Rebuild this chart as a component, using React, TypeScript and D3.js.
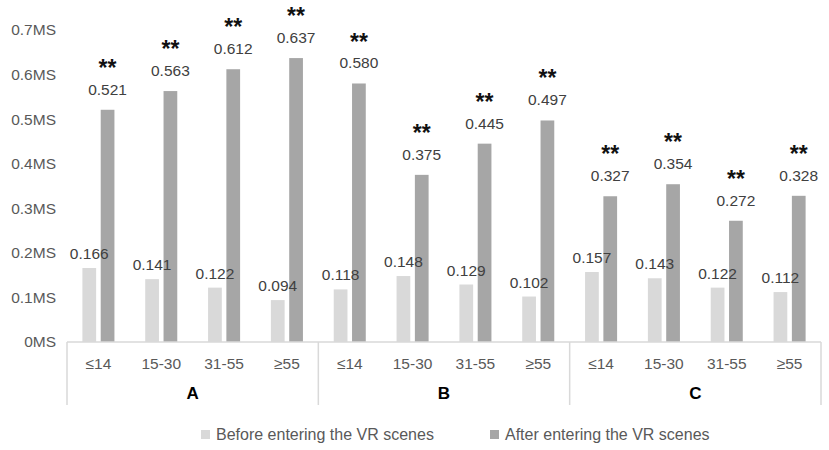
import React, { useEffect, useRef } from 'react';
import * as d3 from 'd3';

const groups = ['A', 'B', 'C'];
const ageBands = ['≤14', '15-30', '31-55', '≥55'];
const seriesNames = ['Before entering the VR scenes', 'After entering the VR scenes'];
const beforeValues = [0.166, 0.141, 0.122, 0.094, 0.118, 0.148, 0.129, 0.102, 0.157, 0.143, 0.122, 0.112];
const afterValues = [0.521, 0.563, 0.612, 0.637, 0.58, 0.375, 0.445, 0.497, 0.327, 0.354, 0.272, 0.328];
const yTicks = [0, 0.1, 0.2, 0.3, 0.4, 0.5, 0.6, 0.7];

const colors = ['#d9d9d9', '#a6a6a6'];
const font = '"Liberation Sans", Arial, sans-serif';

const App: React.FC = () => {
  const svgRef = useRef<SVGSVGElement>(null);

  useEffect(() => {
    if (!svgRef.current) return;
    const width = 829;
    const height = 450;
    const margin = { top: 30, right: 8, bottom: 108, left: 67 };
    const innerW = width - margin.left - margin.right;
    const innerH = height - margin.top - margin.bottom;

    const svg = d3.select(svgRef.current);
    svg.selectAll('*').remove();
    svg.attr('width', width).attr('height', height);

    const g = svg.append('g').attr('transform', `translate(${margin.left},${margin.top})`);

    const slots = groups.flatMap(gr => ageBands.map(a => `${gr}|${a}`));
    const rows = slots.map((s, i) => ({ key: s, group: s.split('|')[0], age: s.split('|')[1], values: [beforeValues[i], afterValues[i]] }));

    const x0 = d3.scaleBand().domain(slots).range([0, innerW]).paddingInner(0.49).paddingOuter(0.245);
    const x1 = d3.scaleBand().domain(['0', '1']).range([0, x0.bandwidth()]).paddingInner(0.25);
    const y = d3.scaleLinear().domain([0, 0.7]).range([innerH, 0]);
    const step = x0.step();

    // y tick labels
    g.selectAll('text.ytick')
      .data(yTicks)
      .enter().append('text')
      .attr('class', 'ytick')
      .attr('x', -11)
      .attr('y', d => y(d))
      .attr('dy', '0.35em')
      .attr('text-anchor', 'end')
      .attr('font-family', font)
      .attr('font-size', 15.5)
      .attr('fill', '#595959')
      .text(d => `${d3.format('~g')(d)}MS`);

    // bars
    const cat = g.selectAll('g.cat')
      .data(rows)
      .enter().append('g')
      .attr('class', 'cat')
      .attr('transform', d => `translate(${x0(d.key)},0)`);

    cat.selectAll('rect')
      .data(d => d.values.map((v, i) => ({ v, i })))
      .enter().append('rect')
      .attr('x', d => x1(String(d.i)) as number)
      .attr('y', d => y(d.v))
      .attr('width', x1.bandwidth())
      .attr('height', d => innerH - y(d.v))
      .attr('fill', d => colors[d.i]);

    cat.selectAll('text.val')
      .data(d => d.values.map((v, i) => ({ v, i })))
      .enter().append('text')
      .attr('class', 'val')
      .attr('x', d => (x1(String(d.i)) as number) + x1.bandwidth() / 2)
      .attr('y', d => y(d.v) - (d.i === 1 ? 15 : 9))
      .attr('text-anchor', 'middle')
      .attr('font-family', font)
      .attr('font-size', 15.5)
      .attr('fill', '#404040')
      .text(d => d3.format('.3f')(d.v));

    cat.append('text')
      .attr('x', (x1('1') as number) + x1.bandwidth() / 2)
      .attr('y', d => y(d.values[1]) - 34)
      .attr('text-anchor', 'middle')
      .attr('font-family', font)
      .attr('font-size', 23)
      .attr('font-weight', 'bold')
      .attr('fill', '#111')
      .text('**');

    // axis line
    g.append('line')
      .attr('x1', 0).attr('x2', innerW)
      .attr('y1', innerH).attr('y2', innerH)
      .attr('stroke', '#d9d9d9').attr('stroke-width', 1.5);

    // category labels
    g.selectAll('text.age')
      .data(rows)
      .enter().append('text')
      .attr('class', 'age')
      .attr('x', d => (x0(d.key) as number) + x0.bandwidth() / 2)
      .attr('y', innerH + 27)
      .attr('text-anchor', 'middle')
      .attr('font-family', font)
      .attr('font-size', 15.5)
      .attr('fill', '#595959')
      .text(d => d.age);

    // group separators and labels
    const groupW = step * ageBands.length;
    g.selectAll('line.sep')
      .data(d3.range(groups.length + 1))
      .enter().append('line')
      .attr('class', 'sep')
      .attr('x1', i => i * groupW).attr('x2', i => i * groupW)
      .attr('y1', innerH).attr('y2', innerH + 63)
      .attr('stroke', '#d9d9d9').attr('stroke-width', 1.5);

    g.selectAll('text.grp')
      .data(groups)
      .enter().append('text')
      .attr('class', 'grp')
      .attr('x', (_d, i) => i * groupW + groupW / 2)
      .attr('y', innerH + 57)
      .attr('text-anchor', 'middle')
      .attr('font-family', font)
      .attr('font-size', 17)
      .attr('font-weight', 'bold')
      .attr('fill', '#000')
      .text(d => d);

    // legend
    const legendX = [201, 490];
    const legend = svg.selectAll('g.legend')
      .data(seriesNames)
      .enter().append('g')
      .attr('class', 'legend')
      .attr('transform', (_d, i) => `translate(${legendX[i]},434)`);
    legend.append('rect')
      .attr('x', 0).attr('y', -4)
      .attr('width', 9).attr('height', 9)
      .attr('fill', (_d, i) => colors[i]);
    legend.append('text')
      .attr('x', 15)
      .attr('y', 0)
      .attr('dy', '0.35em')
      .attr('font-family', font)
      .attr('font-size', 16)
      .attr('fill', '#595959')
      .text(d => d);
  }, []);

  return (
    <div style={{ position: 'absolute', left: 0, top: 0, width: 829, height: 450, background: '#fff' }}>
      <svg ref={svgRef} width={829} height={450}></svg>
    </div>
  );
};

export default App;
